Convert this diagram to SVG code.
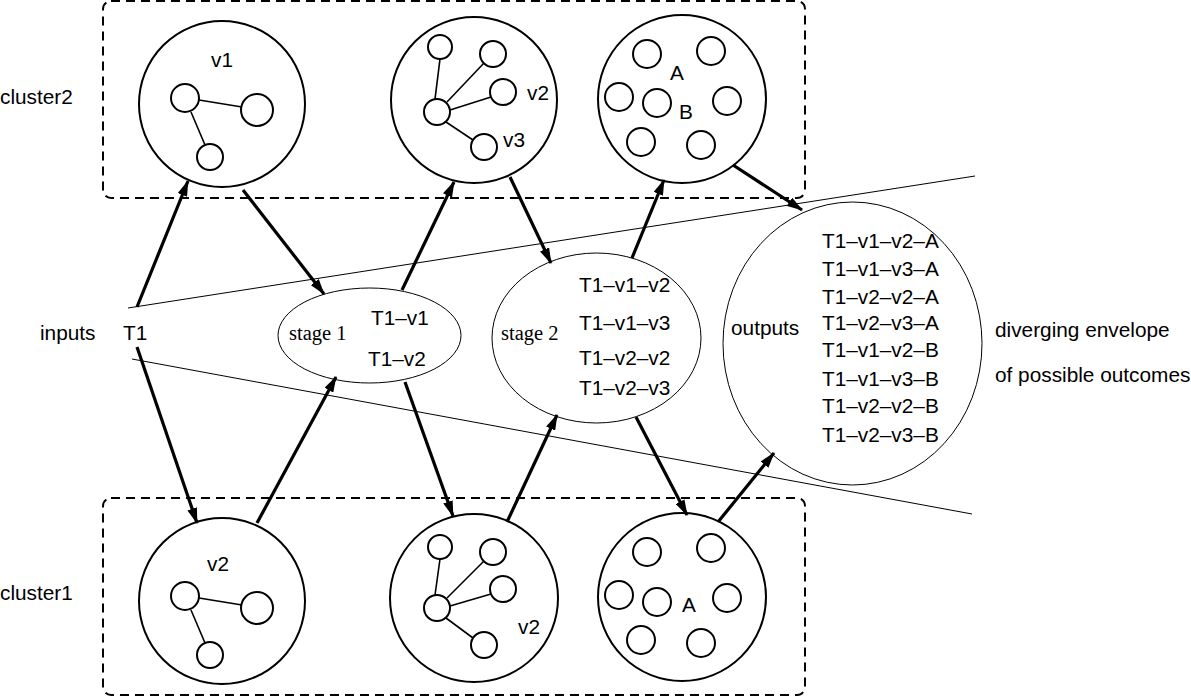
<svg xmlns="http://www.w3.org/2000/svg" width="1191" height="697" viewBox="0 0 1191 697">
<defs>
<marker id="ah" markerUnits="userSpaceOnUse" markerWidth="16" markerHeight="10" refX="15" refY="5" orient="auto">
<path d="M0,0 L16,5 L0,10 Z" fill="#000"/>
</marker>
<style>
text{font-family:"Liberation Sans",Arial,sans-serif;font-size:20.8px;fill:#000}
.serif{font-family:"Liberation Serif","Times New Roman",serif;font-size:20.5px}
.box{fill:none;stroke:#000;stroke-width:2;stroke-dasharray:9 6}
.big{fill:#fff;stroke:#000;stroke-width:2}
.sm{fill:none;stroke:#000;stroke-width:2}
.edge{stroke:#000;stroke-width:1.6}
.thin{fill:none;stroke:#000;stroke-width:1}
.arr{stroke:#000;stroke-width:3.2;fill:none;marker-end:url(#ah)}
</style>
</defs>
<rect width="1191" height="697" fill="#fff"/>

<g id="cluster2">
<rect class="box" x="103" y="1" width="702" height="197" rx="8"/>
<text x="0" y="104">cluster2</text>
</g>
<g id="cluster1">
<rect class="box" x="103" y="498" width="702" height="197" rx="8"/>
<text x="0" y="600">cluster1</text>
</g>

<g id="envelope">
<line class="thin" x1="128" y1="308" x2="975" y2="176"/>
<line class="thin" x1="132" y1="359" x2="972" y2="514"/>
<text x="995" y="337">diverging envelope</text>
<text x="995" y="382">of possible outcomes</text>
</g>

<g id="top-v1">
<circle class="big" cx="222" cy="104" r="83"/>
<text x="222" y="67" text-anchor="middle">v1</text>
<line class="edge" x1="199" y1="100" x2="242" y2="107"/>
<line class="edge" x1="191" y1="112" x2="205" y2="145"/>
<circle class="sm" cx="185" cy="98" r="14"/>
<circle class="sm" cx="257" cy="110" r="16"/>
<circle class="sm" cx="210" cy="157" r="13"/>
</g>

<g id="top-v2">
<circle class="big" cx="474" cy="100" r="83"/>
<line class="edge" x1="435" y1="99" x2="440" y2="59"/>
<line class="edge" x1="447" y1="102" x2="484" y2="63"/>
<line class="edge" x1="450" y1="110" x2="491" y2="97"/>
<line class="edge" x1="446" y1="122" x2="473" y2="140"/>
<circle class="sm" cx="437" cy="112" r="13"/>
<circle class="sm" cx="440" cy="47" r="12"/>
<circle class="sm" cx="493" cy="54" r="13"/>
<circle class="sm" cx="503" cy="92" r="13"/>
<circle class="sm" cx="484" cy="147" r="13"/>
<text x="527" y="100">v2</text>
<text x="503" y="147">v3</text>
</g>

<g id="top-ab">
<circle class="big" cx="682" cy="99" r="84"/>
<circle class="sm" cx="647" cy="54" r="14"/>
<circle class="sm" cx="711" cy="51" r="14"/>
<circle class="sm" cx="619" cy="97" r="14"/>
<circle class="sm" cx="657" cy="103" r="14"/>
<circle class="sm" cx="727" cy="101" r="14"/>
<circle class="sm" cx="641" cy="142" r="14"/>
<circle class="sm" cx="701" cy="145" r="14"/>
<text x="677" y="80" text-anchor="middle">A</text>
<text x="686" y="119" text-anchor="middle">B</text>
</g>

<g id="bottom-v2">
<circle class="big" cx="222" cy="601" r="83"/>
<text x="218" y="571" text-anchor="middle">v2</text>
<line class="edge" x1="199" y1="598" x2="242" y2="605"/>
<line class="edge" x1="191" y1="610" x2="205" y2="643"/>
<circle class="sm" cx="185" cy="596" r="14"/>
<circle class="sm" cx="257" cy="608" r="16"/>
<circle class="sm" cx="210" cy="655" r="13"/>
</g>

<g id="bottom-v2b">
<circle class="big" cx="474" cy="598" r="84"/>
<line class="edge" x1="435" y1="595" x2="440" y2="559"/>
<line class="edge" x1="447" y1="598" x2="484" y2="561"/>
<line class="edge" x1="450" y1="606" x2="491" y2="594"/>
<line class="edge" x1="446" y1="618" x2="473" y2="638"/>
<circle class="sm" cx="437" cy="608" r="13"/>
<circle class="sm" cx="440" cy="547" r="12"/>
<circle class="sm" cx="493" cy="552" r="13"/>
<circle class="sm" cx="503" cy="589" r="13"/>
<circle class="sm" cx="484" cy="645" r="13"/>
<text x="518" y="634">v2</text>
</g>

<g id="bottom-a">
<circle class="big" cx="682" cy="597" r="84"/>
<circle class="sm" cx="647" cy="552" r="14"/>
<circle class="sm" cx="711" cy="548" r="14"/>
<circle class="sm" cx="619" cy="595" r="14"/>
<circle class="sm" cx="657" cy="602" r="14"/>
<circle class="sm" cx="727" cy="598" r="14"/>
<circle class="sm" cx="641" cy="640" r="14"/>
<circle class="sm" cx="701" cy="643" r="14"/>
<text x="689" y="612" text-anchor="middle">A</text>
</g>

<g id="inputs">
<text x="40" y="340">inputs</text>
<text x="123" y="340">T1</text>
</g>

<g id="stage1">
<ellipse class="thin" cx="369.5" cy="335.5" rx="91.5" ry="47.5"/>
<text class="serif" x="289" y="340">stage 1</text>
<text x="371" y="325">T1–v1</text>
<text x="368" y="366">T1–v2</text>
</g>

<g id="stage2">
<ellipse class="thin" cx="596.5" cy="338" rx="104.5" ry="85"/>
<text class="serif" x="501" y="340">stage 2</text>
<text x="579" y="292">T1–v1–v2</text>
<text x="579" y="330">T1–v1–v3</text>
<text x="579" y="365">T1–v2–v2</text>
<text x="579" y="395">T1–v2–v3</text>
</g>

<g id="outputs">
<ellipse class="thin" cx="852.5" cy="343.5" rx="129.5" ry="141.5"/>
<text x="731" y="335">outputs</text>
<text x="822" y="248">T1–v1–v2–A</text>
<text x="822" y="276">T1–v1–v3–A</text>
<text x="822" y="304">T1–v2–v2–A</text>
<text x="822" y="330">T1–v2–v3–A</text>
<text x="822" y="357">T1–v1–v2–B</text>
<text x="822" y="386">T1–v1–v3–B</text>
<text x="822" y="413">T1–v2–v2–B</text>
<text x="822" y="442">T1–v2–v3–B</text>
</g>

<g id="connectors">
<line class="arr" x1="137" y1="307" x2="188" y2="181"/>
<line class="arr" x1="243" y1="190" x2="324" y2="294"/>
<line class="arr" x1="402" y1="290" x2="454" y2="182"/>
<line class="arr" x1="510" y1="177" x2="551" y2="263"/>
<line class="arr" x1="632" y1="258" x2="664" y2="180"/>
<line class="arr" x1="733" y1="165" x2="802" y2="210"/>
<line class="arr" x1="137" y1="347" x2="197" y2="523"/>
<line class="arr" x1="257" y1="523" x2="336" y2="377"/>
<line class="arr" x1="405" y1="382" x2="453" y2="516"/>
<line class="arr" x1="507" y1="522" x2="557" y2="415"/>
<line class="arr" x1="636" y1="417" x2="687" y2="515"/>
<line class="arr" x1="718" y1="522" x2="774" y2="453"/>
</g>
</svg>
